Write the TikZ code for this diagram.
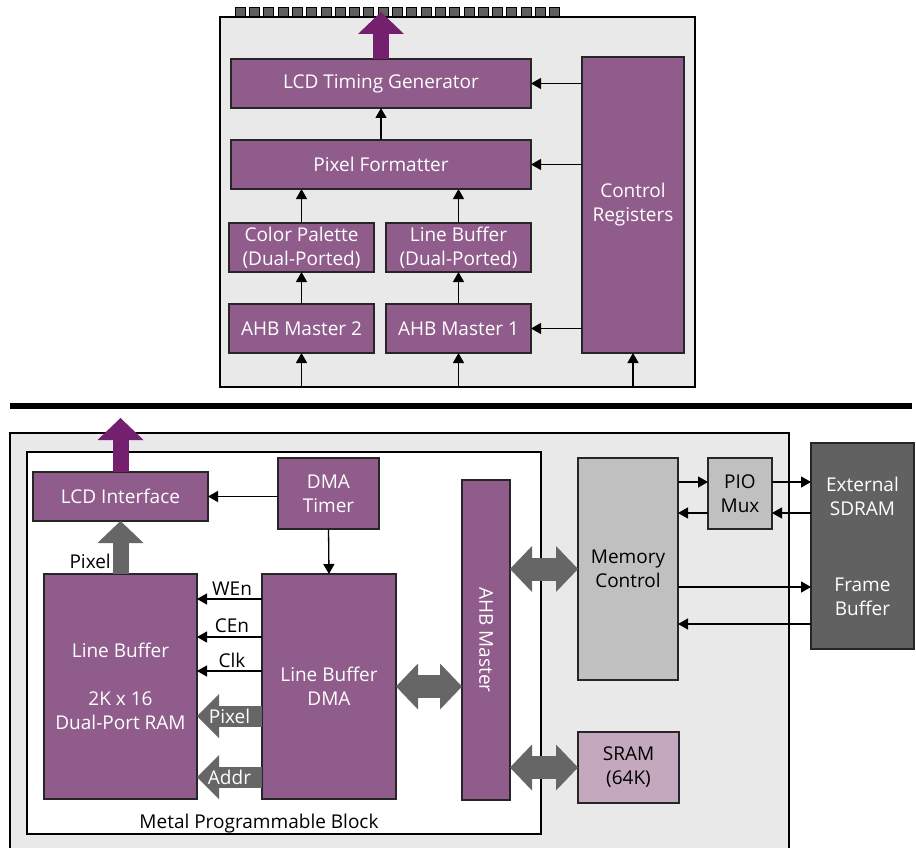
\documentclass[tikz,border=0pt]{standalone}
\usepackage{fontspec}
\setmainfont{Open Sans}
\usetikzlibrary{arrows.meta,calc}
\definecolor{purp}{RGB}{144,92,140}
\definecolor{dpurp}{RGB}{116,32,110}
\definecolor{fatgray}{RGB}{102,102,102}
\definecolor{bggray}{RGB}{233,233,233}
\definecolor{midgray}{RGB}{192,192,192}
\definecolor{darkbox}{RGB}{97,97,97}
\definecolor{srampurp}{RGB}{196,168,190}
\definecolor{pingray}{RGB}{95,95,95}
\tikzset{
  fnt/.style={font=\fontsize{19}{24}\selectfont},
  pbox/.style={draw=black!85, line width=1.5pt, fill=purp, text=white, fnt, inner sep=0pt, outer sep=0pt, align=center},
  gbox/.style={draw=black!85, line width=1.5pt, fill=midgray, text=black, fnt, inner sep=0pt, outer sep=0pt, align=center},
  dbox/.style={draw=black!85, line width=1.5pt, fill=darkbox, text=white, fnt, inner sep=0pt, outer sep=0pt, align=center},
  sbox/.style={draw=black!85, line width=1.5pt, fill=srampurp, text=black, fnt, inner sep=0pt, outer sep=0pt, align=center},
  frame/.style={draw=black, line width=2.5pt, fill=bggray, inner sep=0pt, outer sep=0pt},
  arr/.style={line width=1.3pt, -{Triangle[width=11pt,length=10pt]}},
  fatp/.style={draw=dpurp, line width=16pt, -{Triangle[width=46pt,length=22pt,line width=0pt]}},
  fatg/.style={draw=fatgray, line width=16pt, -{Triangle[width=46pt,length=22pt,line width=0pt]}},
  fatl/.style={draw=fatgray, line width=21pt, -{Triangle[width=44pt,length=22pt,line width=0pt]}},
  fatd/.style={draw=fatgray, line width=23pt, {Triangle[width=46pt,length=22pt,line width=0pt]}-{Triangle[width=46pt,length=22pt,line width=0pt]}},
  lbl/.style={fnt, text=black, inner sep=0pt},
  wlbl/.style={fnt, text=white, inner sep=0pt},
  pin/.style={fill=pingray, draw=black, line width=0.6pt}
}
\begin{document}
\begin{tikzpicture}[x=1pt,y=-1pt]
\useasboundingbox[fill=white] (0,0) rectangle (916,848);

% ---------- top block ----------
\foreach \k in {0,...,22} \filldraw[pin] ({235+\k*14.3},7) rectangle ++(10,10);
\node[frame, minimum width=475, minimum height=370] (top) at (457.5,202) {};

\node[pbox, minimum width=300, minimum height=49] (ltg) at (381,83.5) {LCD Timing Generator};
\node[pbox, minimum width=300, minimum height=49] (pf) at (381,164.5) {Pixel Formatter};
\node[pbox, minimum width=145, minimum height=49] (cp) at (301.5,247.5) {Color Palette\\(Dual-Ported)};
\node[pbox, minimum width=145, minimum height=49] (lbd) at (458.5,247.5) {Line Buffer\\(Dual-Ported)};
\node[pbox, minimum width=145, minimum height=49] (am2) at (301.5,328.5) {AHB Master 2};
\node[pbox, minimum width=145, minimum height=49] (am1) at (458.5,328.5) {AHB Master 1};
\node[pbox, minimum width=102, minimum height=296] (cr) at (633,205) {Control\\Registers};

\draw[fatp] (ltg.north) -- ++(0,-47);
\draw[arr] (pf.north) -- (ltg.south);
\draw[arr] (cp.north) -- (cp.north |- pf.south);
\draw[arr] (lbd.north) -- (lbd.north |- pf.south);
\draw[arr] (am2.north) -- (cp.south);
\draw[arr] (am1.north) -- (lbd.south);
\draw[arr] (am2.south |- top.south) -- (am2.south);
\draw[arr] (am1.south |- top.south) -- (am1.south);
\draw[arr] (cr.south |- top.south) -- (cr.south);
\draw[arr] (cr.west |- ltg.east) -- (ltg.east);
\draw[arr] (cr.west |- pf.east) -- (pf.east);
\draw[arr] (cr.west |- am1.east) -- (am1.east);

% ---------- separator ----------
\draw[line width=6pt] (10,406) -- (912,406);

% ---------- bottom block ----------
\filldraw[frame] (10,433) rectangle (789,880);
\node[draw=black, line width=1.3pt, fill=white, minimum width=514, minimum height=382, inner sep=0pt, outer sep=0pt] (mpb) at (284,643) {};
\node[lbl, anchor=base] at (259,828) {Metal Programmable Block};

\node[pbox, minimum width=175, minimum height=49] (lcdif) at (120.5,496.5) {LCD Interface};
\node[pbox, minimum width=101, minimum height=71] (dmat) at (328.5,493.5) {DMA\\Timer};
\node[pbox, minimum width=153, minimum height=225] (lbram) at (120.5,686.5) {Line Buffer\\[24pt]2K x 16\\Dual-Port RAM};
\node[pbox, minimum width=134, minimum height=225] (lbdma) at (329,686.5) {Line Buffer\\DMA};
\node[pbox, minimum width=48, minimum height=320] (ahb) at (486,640) {};
\node[wlbl, rotate=-90] at (ahb.center) {AHB Master};
\node[gbox, minimum width=100, minimum height=222] (mc) at (628,569) {Memory\\Control};
\node[gbox, minimum width=64, minimum height=71] (pio) at (740,493.5) {PIO\\Mux};
\node[dbox, minimum width=103, minimum height=206] (ext) at (862.5,546) {External\\SDRAM\\[52pt]Frame\\Buffer};
\node[sbox, minimum width=101, minimum height=71] (sram) at (628.5,767.5) {SRAM\\(64K)};

% arrows bottom
\draw[fatp] (lcdif.north) -- ++(0,-54);
\draw[fatg] (lbram.north) -- (lbram.north |- lcdif.south);
\node[lbl, anchor=base east] at (111,568) {Pixel};
\draw[arr] (dmat.west |- lcdif.east) -- (lcdif.east);
\draw[arr] (dmat.south) -- (lbdma.north);

\draw[arr] (lbdma.west |- 0,599) -- (lbram.east |- 0,599);
\draw[arr] (lbdma.west |- 0,637) -- (lbram.east |- 0,637);
\draw[arr] (lbdma.west |- 0,671) -- (lbram.east |- 0,671);
\node[lbl, anchor=base] at (232,595) {WEn};
\node[lbl, anchor=base] at (232,632) {CEn};
\node[lbl, anchor=base] at (232,667) {Clk};

\draw[fatl] (lbdma.west |- 0,716) -- (lbram.east |- 0,716) node[wlbl, midway] {Pixel};
\draw[fatl] (lbdma.west |- 0,777) -- (lbram.east |- 0,777) node[wlbl, midway] {Addr};

\draw[fatd] (lbdma.east) -- (lbdma.east -| ahb.west);
\draw[fatd] (ahb.east |- mc.west) -- (mc.west);
\draw[fatd] (ahb.east |- sram.west) -- (sram.west);

\draw[arr] (mc.east |- 0,482) -- (pio.west |- 0,482);
\draw[arr] (pio.west |- 0,513) -- (mc.east |- 0,513);
\draw[arr] (pio.east |- 0,482) -- (ext.west |- 0,482);
\draw[arr] (ext.west |- 0,513) -- (pio.east |- 0,513);
\draw[arr] (mc.east |- 0,587) -- (ext.west |- 0,587);
\draw[arr] (ext.west |- 0,624) -- (mc.east |- 0,624);
\end{tikzpicture}
\end{document}
